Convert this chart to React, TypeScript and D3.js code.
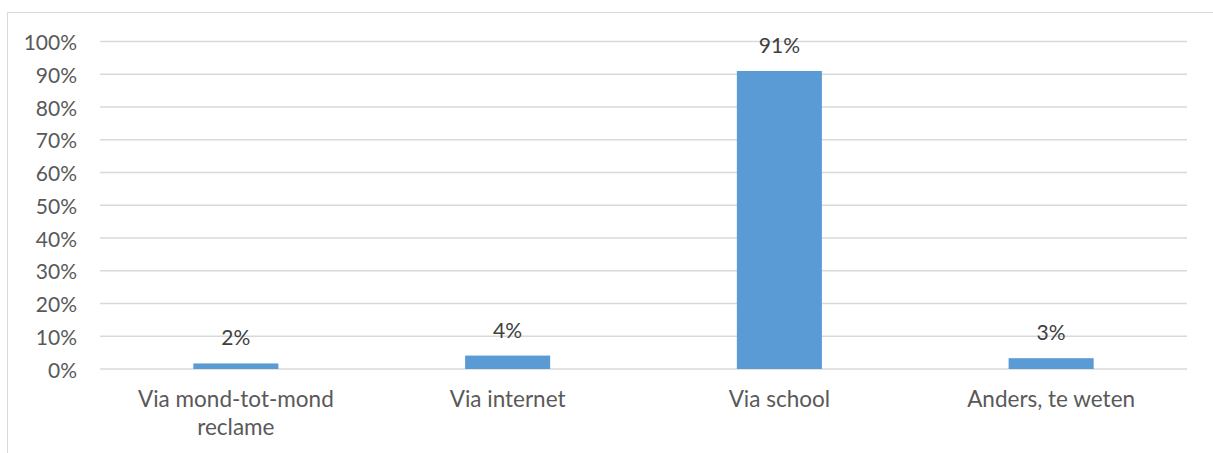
import React from "react";
import * as d3 from "d3";

const categories: string[][] = [
  ["Via mond-tot-mond", "reclame"],
  ["Via internet"],
  ["Via school"],
  ["Anders, te weten"],
];
const values: number[] = [0.017, 0.041, 0.91, 0.033];
const valueLabels: string[] = ["2%", "4%", "91%", "3%"];
const yTicks: number[] = [0, 0.1, 0.2, 0.3, 0.4, 0.5, 0.6, 0.7, 0.8, 0.9, 1.0];

const W = 1213;
const H = 453;
const FONT = "Lato, 'Open Sans', sans-serif";
const TEXT = "#595959";

export default function App() {
  const left = 100;
  const right = 1187;
  const top = 41.5;
  const bottom = 369;
  const x = d3
    .scaleBand<number>()
    .domain(values.map((_, i) => i))
    .range([left, right])
    .paddingInner(0)
    .paddingOuter(0);
  const y = d3.scaleLinear().domain([0, 1]).range([bottom, top]);
  const barW = x.bandwidth() * 0.313;
  const fmt = d3.format(".0%");

  return (
    <svg
      width={W}
      height={H}
      style={{ position: "absolute", left: 0, top: 0, background: "#fff" }}
      fontFamily={FONT}
    >
      <rect x={0} y={0} width={W} height={H} fill="#fff" />
      <path d={`M${W + 5},12.5 H7.5 V${H + 5}`} fill="none" stroke="#d9d9d9" strokeWidth={1} />
      {yTicks.map((t) => (
        <g key={t}>
          <line x1={left} x2={right} y1={y(t)} y2={y(t)} stroke="#d9d9d9" strokeWidth={1.3} />
          <text
            x={77}
            y={y(t)}
            textAnchor="end"
            dominantBaseline="central"
            fontSize={21}
            fill={TEXT}
          >
            {fmt(t)}
          </text>
        </g>
      ))}
      {values.map((v, i) => {
        const cx = (x(i) as number) + x.bandwidth() / 2;
        return (
          <g key={i}>
            <rect x={cx - barW / 2} y={y(v)} width={barW} height={y(0) - y(v)} fill="#5b9bd5" />
            <text x={cx} y={y(v) - 18} textAnchor="middle" fontSize={21} fill="#404040">
              {valueLabels[i]}
            </text>
            {categories[i].map((line, j) => (
              <text
                key={j}
                x={cx}
                y={407 + j * 28}
                textAnchor="middle"
                fontSize={22.5}
                fill={TEXT}
              >
                {line}
              </text>
            ))}
          </g>
        );
      })}
    </svg>
  );
}
